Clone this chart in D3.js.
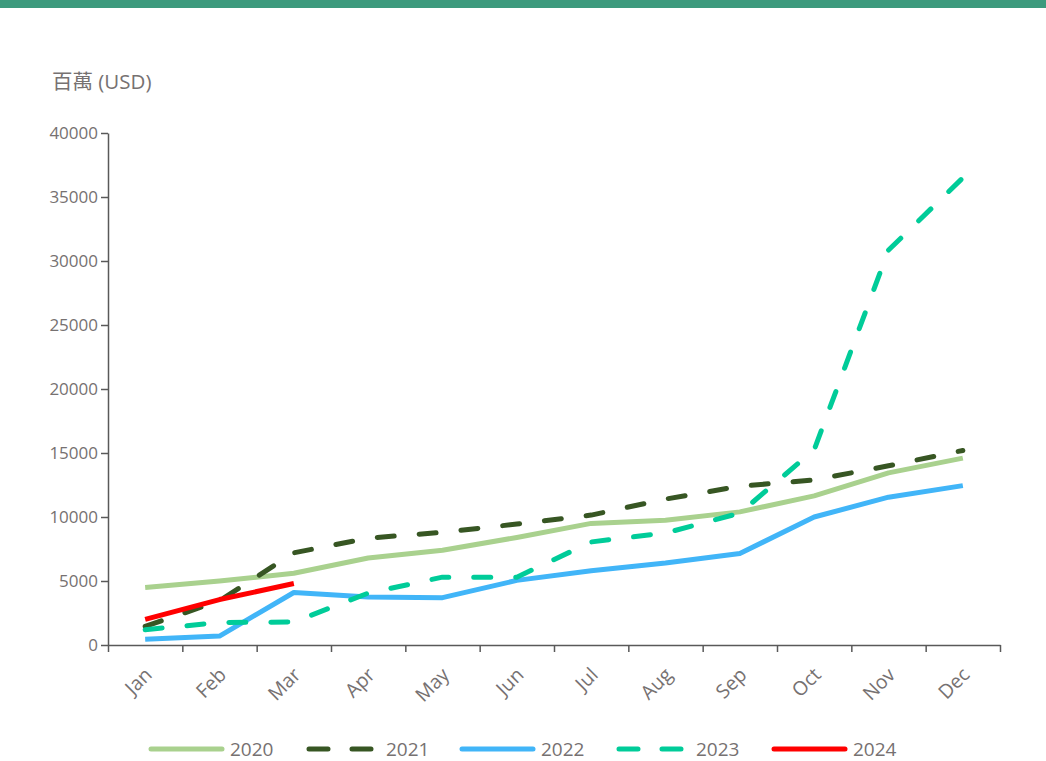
<!DOCTYPE html>
<html>
<head>
<meta charset="utf-8">
<script src="https://cdn.jsdelivr.net/npm/d3@7"></script>
<style>
  html, body { margin: 0; padding: 0; background: #fff; }
  svg { display: block; }
  text { font-family: "Open Sans", "Noto Sans", sans-serif; fill: #767171; }
</style>
</head>
<body>
<svg id="chart" width="1046" height="761"></svg>
<script>
// Monthly values, millions of USD
const months = ["Jan", "Feb", "Mar", "Apr", "May", "Jun", "Jul", "Aug", "Sep", "Oct", "Nov", "Dec"];
const v2020 = [4500, 5000, 5600, 6800, 7400, 8400, 9500, 9750, 10400, 11650, 13450, 14600];
const v2021 = [1450, 3450, 7200, 8350, 8800, 9450, 10150, 11400, 12400, 12900, 14000, 15200];
const v2022 = [450, 700, 4100, 3750, 3700, 5050, 5800, 6400, 7150, 10000, 11550, 12450];
const v2023 = [1200, 1750, 1800, 4050, 5300, 5300, 8050, 8750, 10300, 15250, 30850, 36500];
const v2024 = [2000, 3550, 4800];
const yTicks = [0, 5000, 10000, 15000, 20000, 25000, 30000, 35000, 40000];
const yUnit = "百萬 (USD)";

const series = [
  { name: "2020", values: v2020, color: "#a9d18e", dash: null },
  { name: "2021", values: v2021, color: "#375623", dash: "17,25" },
  { name: "2022", values: v2022, color: "#41b5f8", dash: null },
  { name: "2023", values: v2023, color: "#00cc99", dash: "17,25" },
  { name: "2024", values: v2024, color: "#ff0000", dash: null }
];

const svg = d3.select("#chart");

// header band
svg.append("rect").attr("x", 0).attr("y", 0).attr("width", 1046).attr("height", 8).attr("fill", "#3d9a7d");

const plotLeft = 108, plotRight = 1000, plotTop = 133, plotBottom = 645;

const y = d3.scaleLinear().domain([0, 40000]).range([plotBottom, plotTop]);
const xEdge = d3.scaleLinear().domain([0, months.length]).range([plotLeft, plotRight]);
const x = d3.scaleBand().domain(months).range([plotLeft, plotRight]);
const xc = m => x(m) + x.bandwidth() / 2;

// y axis
const yAxis = svg.append("g")
  .attr("transform", `translate(${plotLeft},0)`)
  .call(d3.axisLeft(y).tickValues(yTicks).tickSize(7).tickSizeOuter(0).tickFormat(d3.format("d")));
yAxis.select(".domain").attr("stroke", "#595959").attr("stroke-width", 1.5);
yAxis.selectAll(".tick text").attr("x", -10).attr("font-size", "17px").attr("fill", "#767171")
  .style("font-family", '"Open Sans", sans-serif');
yAxis.selectAll(".tick line").attr("stroke", "#595959").attr("stroke-width", 1.5);

// x axis: ticks on category boundaries
const xAxis = svg.append("g")
  .attr("transform", `translate(0,${plotBottom})`)
  .call(d3.axisBottom(xEdge).tickValues(d3.range(0, months.length + 1)).tickSize(7).tickSizeOuter(0).tickFormat(""));
xAxis.select(".domain").attr("stroke", "#595959").attr("stroke-width", 1.5);
xAxis.selectAll(".tick line").attr("stroke", "#595959").attr("stroke-width", 1.5);

// rotated category labels
svg.append("g").selectAll("text")
  .data(months)
  .join("text")
  .attr("text-anchor", "end")
  .attr("font-size", "19.5px")
  .attr("transform", d => `translate(${xc(d) + 8},${plotBottom + 31}) rotate(-45)`)
  .text(d => d);

// unit label
svg.append("text")
  .attr("x", 52).attr("y", 89)
  .attr("font-size", "20.5px")
  .style("font-family", '"Open Sans", "Noto Sans CJK TC", sans-serif')
  .text(yUnit);

// series lines
const line = d3.line()
  .x((d, i) => xc(months[i]))
  .y(d => y(d));

svg.append("g").selectAll("path")
  .data(series)
  .join("path")
  .attr("d", s => line(s.values))
  .attr("fill", "none")
  .attr("stroke", s => s.color)
  .attr("stroke-width", 5)
  .attr("stroke-linecap", s => s.dash ? "round" : "butt")
  .attr("stroke-linejoin", "round")
  .attr("stroke-dasharray", s => s.dash);

// legend
const legendX = [151, 307, 462, 617, 774];
const legend = svg.append("g");
series.forEach((s, i) => {
  const g = legend.append("g").attr("transform", `translate(${legendX[i]},749)`);
  g.append("line")
    .attr("x1", s.dash ? 2 : 0).attr("x2", s.dash ? 70 : 71)
    .attr("y1", 0).attr("y2", 0)
    .attr("stroke", s.color).attr("stroke-width", 5)
    .attr("stroke-linecap", "round")
    .attr("stroke-dasharray", s.dash ? "19,24" : null);
  g.append("text")
    .attr("x", 79).attr("y", 0)
    .attr("dy", "0.35em")
    .attr("font-size", "19px")
    .text(s.name);
});
</script>
</body>
</html>
